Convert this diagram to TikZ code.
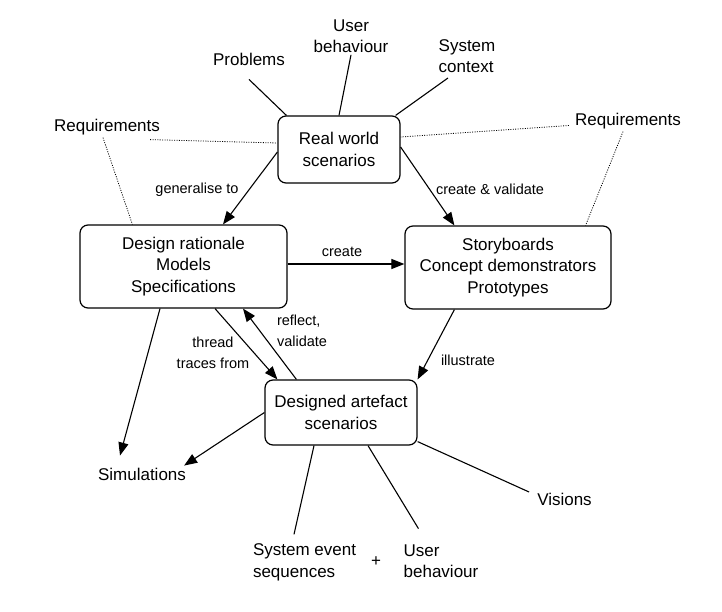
\documentclass[tikz,border=0pt]{standalone}
\usepackage{fontspec}
\setmainfont{Liberation Sans}
\usetikzlibrary{arrows.meta,positioning,calc}
\tikzset{
  scenbox/.style={
    rectangle, rounded corners=8pt, draw=black, line width=1.2pt,
    font=\fontsize{17}{21.5}\selectfont, align=center, inner sep=3pt
  },
  labelnode/.style={
    font=\fontsize{17}{21.5}\selectfont, align=#1, inner sep=2pt
  },
  labelnode/.default=center,
  arrowlabel/.style={
    font=\fontsize{14.5}{20.5}\selectfont, align=#1, inner sep=2pt
  },
  arrowlabel/.default=left,
  linkarrow/.style={
    -{Triangle[length=13pt,width=10pt]}, line width=1.1pt
  },
  linkline/.style={line width=1.1pt},
  reqline/.style={line width=0.8pt, dash pattern=on 1pt off 1.4pt},
}

\begin{document}
\begin{tikzpicture}[x=1pt,y=1pt]
  \useasboundingbox (0,0) rectangle (722,611);

  % Scenario boxes
  \node[scenbox, minimum width=122pt, minimum height=67pt] (rws) at (339,461.5) {Real world\\scenarios};
  \node[scenbox, minimum width=207pt, minimum height=83pt] (dr) at (183.5,344.5) {Design rationale\\Models\\Specifications};
  \node[scenbox, minimum width=206pt, minimum height=83pt] (sb) at (508,343.5) {Storyboards\\Concept demonstrators\\Prototypes};
  \node[scenbox, minimum width=152pt, minimum height=65pt] (das) at (341,198.5) {Designed artefact\\scenarios};

  % Surrounding labels
  \node[labelnode] (prob) at (249,552) {Problems};
  \node[labelnode] (ubtop) at (351,575) {User\\behaviour};
  \node[labelnode=left] (sysctx) at (467,555) {System\\context};
  \node[labelnode] (reql) at (107,483.5) {Requirements};
  \node[labelnode] (reqr) at (628,489.5) {Requirements};
  \node[labelnode] (sims) at (142,137) {Simulations};
  \node[labelnode=left] (sevs) at (304.5,48.5) {System event\\sequences};
  \node[labelnode] (plus) at (376,49) {+};
  \node[labelnode=left] (ubbot) at (441,50) {User\\behaviour};
  \node[labelnode] (visions) at (564.5,112) {Visions};

  % Arrow labels
  \node[arrowlabel] (gen) at (197,421) {generalise to};
  \node[arrowlabel] (cv) at (490,422) {create \& validate};
  \node[arrowlabel] (crt) at (342,359) {create};
  \node[arrowlabel] (ill) at (468,251) {illustrate};
  \node[arrowlabel=center] (thr) at (213,258) {thread\\traces from};
  \node[arrowlabel] (refl) at (302,280) {reflect,\\validate};

  % Context of the real world
  \draw[linkline] ([yshift=-12pt]prob.south) -- ([xshift=9pt]rws.north west);
  \draw[linkline] (ubtop.south) -- (rws.north);
  \draw[linkline] ([xshift=-19pt,yshift=-3pt]sysctx.south) -- ([xshift=-5pt]rws.north east);

  % Requirements
  \draw[reqline] ([xshift=-12pt,yshift=-2pt]reql.south east) -- ([yshift=6.5pt]rws.west);
  \draw[reqline] ([xshift=-4pt]reql.south) -- ([xshift=53pt]dr.north west);
  \draw[reqline] ([xshift=-4pt,yshift=-4pt]reqr.west) -- ([yshift=12.5pt]rws.east);
  \draw[reqline] ([xshift=-5pt]reqr.south) -- ([xshift=-26pt]sb.north east);

  % Main cycle
  \draw[linkarrow] ([yshift=-2.5pt]rws.west) -- ([xshift=39.5pt]dr.north);
  \draw[linkarrow] ([yshift=2.5pt]rws.east) -- ([xshift=50pt]sb.north west);
  \draw[linkarrow] ([yshift=2.5pt]dr.east) -- ([yshift=2.5pt]dr.east -| sb.west);
  \draw[linkarrow] ([xshift=50pt]sb.south west) -- (das.north east);
  \draw[linkarrow] ([xshift=31.5pt]dr.south) -- ([xshift=13pt]das.north west);
  \draw[linkarrow] ([xshift=32pt]das.north west) -- ([xshift=59.5pt]dr.south);

  % Outputs
  \draw[linkarrow] ([xshift=-23.5pt]dr.south) -- ([xshift=-22pt,yshift=10pt]sims.north);
  \draw[linkarrow] (das.west) -- ([xshift=-4pt]sims.north east);
  \draw[linkline] ([xshift=-27pt]das.south) -- ([xshift=-10.5pt,yshift=7.5pt]sevs.north);
  \draw[linkline] ([xshift=27pt]das.south) -- ([xshift=17pt,yshift=13.5pt]ubbot.north west);
  \draw[linkline] ([yshift=4pt]das.south east) -- ([xshift=-6pt,yshift=7pt]visions.west);
\end{tikzpicture}
\end{document}
